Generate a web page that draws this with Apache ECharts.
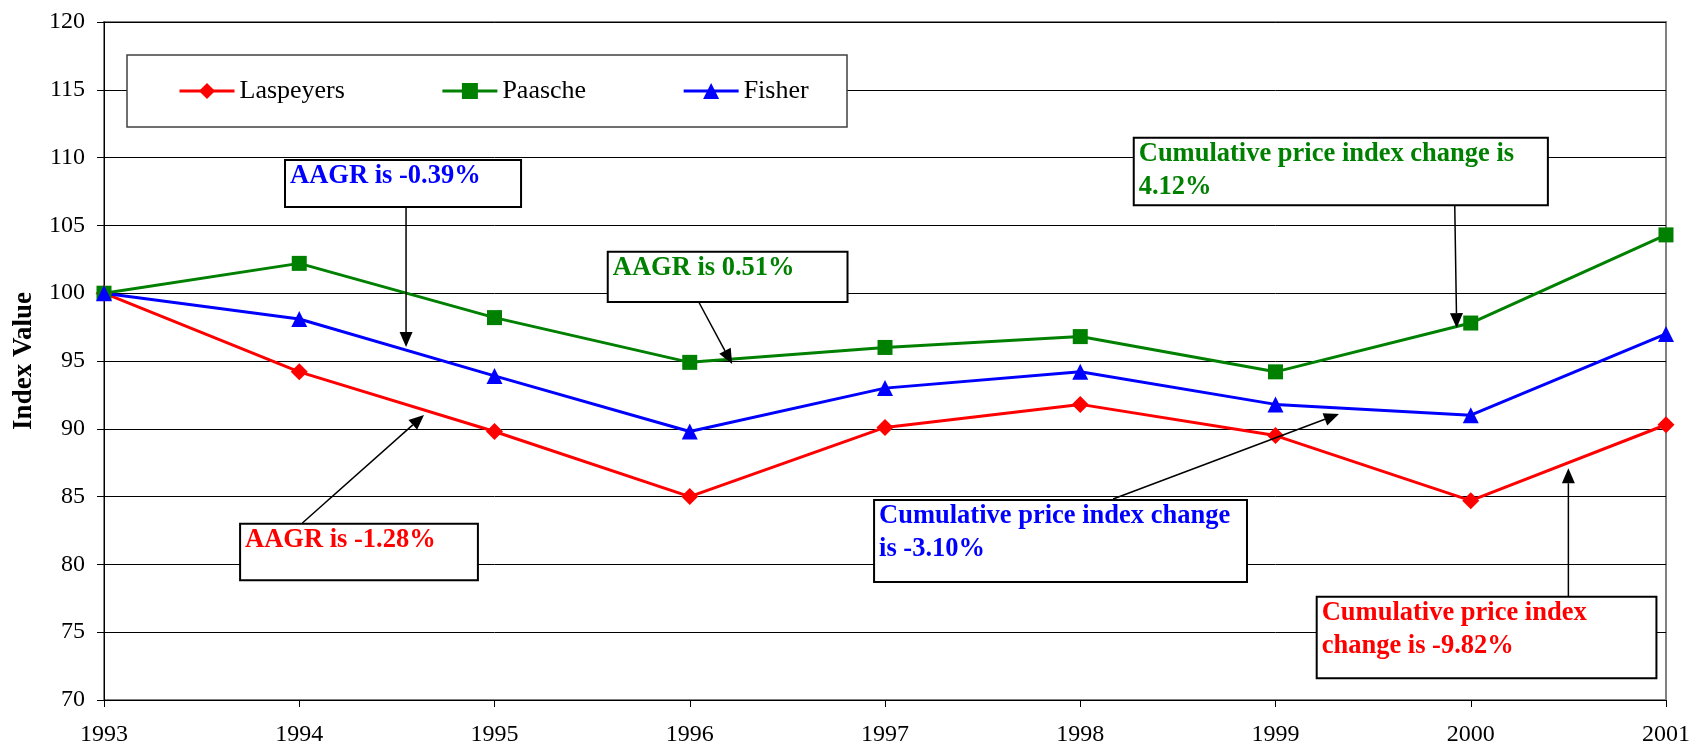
<!DOCTYPE html>
<html><head><meta charset="utf-8">
<script src="https://cdn.jsdelivr.net/npm/echarts@6/dist/echarts.min.js"></script>
<style>html,body{margin:0;padding:0;background:#fff}#c{width:1696px;height:747px}</style>
</head><body><div id="c"></div>
<script>
const years = [1993, 1994, 1995, 1996, 1997, 1998, 1999, 2000, 2001];
const laspeyers = [100.0, 94.2, 89.8, 85.0, 90.1, 91.8, 89.5, 84.7, 90.3];
const paasche   = [100.0, 102.2, 98.2, 94.9, 96.0, 96.8, 94.2, 97.8, 104.3];
const fisher    = [100.0, 98.1, 93.9, 89.8, 93.0, 94.2, 91.8, 91.0, 97.0];
const seriesNames = ['Laspeyers', 'Paasche', 'Fisher'];
const yMin = 70, yMax = 120, yStep = 5;
const yTitle = 'Index Value';

// annotation texts and anchors (data coordinates)
const annTexts = [
  'AAGR is -0.39%',
  'AAGR is 0.51%',
  'Cumulative price index change is\n4.12%',
  'AAGR is -1.28%',
  'Cumulative price index change\nis -3.10%',
  'Cumulative price index\nchange is -9.82%'
];
const annColors = ['#0000FF', '#008000', '#008000', '#FF0000', '#0000FF', '#FF0000'];
const annBoxes = [
  [1993.927, 109.82, 1995.136, 106.36],
  [1995.580, 103.06, 1996.808, 99.35],
  [1998.274, 111.47, 2000.395, 106.48],
  [1993.697, 83.00, 1994.915, 78.83],
  [1996.944, 84.75, 1998.854, 78.70],
  [1999.211, 77.62, 2000.951, 71.60]
];
const annArrows = [
  [[1994.547, 106.36], [1994.547, 96.03]],
  [[1996.046, 99.35], [1996.217, 94.78]],
  [[1999.918, 106.48], [1999.928, 97.43]],
  [[1994.016, 83.05], [1994.639, 91.02]],
  [[1998.168, 84.82], [1999.325, 91.09]],
  [[2000.500, 77.62], [2000.500, 87.09]]
];

const pair = arr => years.map((y, i) => [y, arr[i]]);
const FONT = '"Liberation Serif", "Times New Roman", serif';

const chart = echarts.init(document.getElementById('c'), null, {renderer: 'canvas'});
const mk = (name, data, color, symbol, size) => ({
  name, type: 'line', data: pair(data), symbol, symbolSize: size,
  lineStyle: {color, width: 3}, itemStyle: {color}, z: 3, animation: false
});
chart.setOption({
  animation: false,
  backgroundColor: '#fff',
  grid: {left: 104, right: 30, top: 22, bottom: 47, show: true, borderColor: '#808080', borderWidth: 2, backgroundColor: 'transparent'},
  legend: {
    data: seriesNames, left: 173, top: 73, itemWidth: 55, itemHeight: 20, itemGap: 96,
    lineStyle: {width: 3},
    textStyle: {color: '#000', fontSize: 26, fontFamily: FONT}, z: 6
  },
  xAxis: {
    type: 'value', min: years[0], max: years[years.length - 1], interval: 1,
    axisLine: {lineStyle: {color: '#000', width: 1}},
    axisTick: {show: true, length: 7, lineStyle: {color: '#000'}},
    axisLabel: {color: '#000', fontSize: 24, fontFamily: FONT, margin: 23, formatter: v => String(v)},
    splitLine: {show: false}
  },
  yAxis: {
    type: 'value', min: yMin, max: yMax, interval: yStep,
    name: yTitle, nameLocation: 'middle', nameGap: 66,
    nameTextStyle: {color: '#000', fontSize: 27, fontWeight: 'bold', fontFamily: FONT},
    axisLine: {show: true, lineStyle: {color: '#000', width: 1}},
    axisTick: {show: true, length: 7, lineStyle: {color: '#000'}},
    axisLabel: {color: '#000', fontSize: 24, fontFamily: FONT, margin: 19},
    splitLine: {show: true, lineStyle: {color: '#000', width: 1}}
  },
  series: [
    mk(seriesNames[0], laspeyers, '#FF0000', 'diamond', 17),
    mk(seriesNames[1], paasche, '#008000', 'rect', 15),
    mk(seriesNames[2], fisher, '#0000FF', 'triangle', 16)
  ]
});

const px = p => chart.convertToPixel({gridIndex: 0}, p);
const elements = [];
// legend frame
elements.push({type: 'rect', shape: {x: 127, y: 55, width: 720, height: 72},
  style: {fill: '#fff', stroke: '#404040', lineWidth: 1.5}, z: 4});
annBoxes.forEach((b, i) => {
  const p1 = px([b[0], b[1]]), p2 = px([b[2], b[3]]);
  elements.push({type: 'rect', shape: {x: p1[0], y: p1[1], width: p2[0] - p1[0], height: p2[1] - p1[1]},
    style: {fill: '#fff', stroke: '#000', lineWidth: 2}, z: 10});
  elements.push({type: 'text', x: p1[0] + 5, y: p1[1] + 0, z: 11,
    style: {text: annTexts[i], fill: annColors[i], font: 'bold 26.5px ' + FONT, lineHeight: 33}});
});
annArrows.forEach(a => {
  const s = px(a[0]), t = px(a[1]);
  const dx = t[0] - s[0], dy = t[1] - s[1], L = Math.hypot(dx, dy);
  const ux = dx / L, uy = dy / L, hl = 15, hw = 6.5;
  const bx = t[0] - ux * hl, by = t[1] - uy * hl;
  elements.push({type: 'line', shape: {x1: s[0], y1: s[1], x2: bx, y2: by},
    style: {stroke: '#000', lineWidth: 1.5}, z: 12});
  elements.push({type: 'polygon', shape: {points: [[t[0], t[1]], [bx - uy * hw, by + ux * hw], [bx + uy * hw, by - ux * hw]]},
    style: {fill: '#000'}, z: 12});
});
chart.setOption({graphic: {elements}});
</script>
</body></html>
